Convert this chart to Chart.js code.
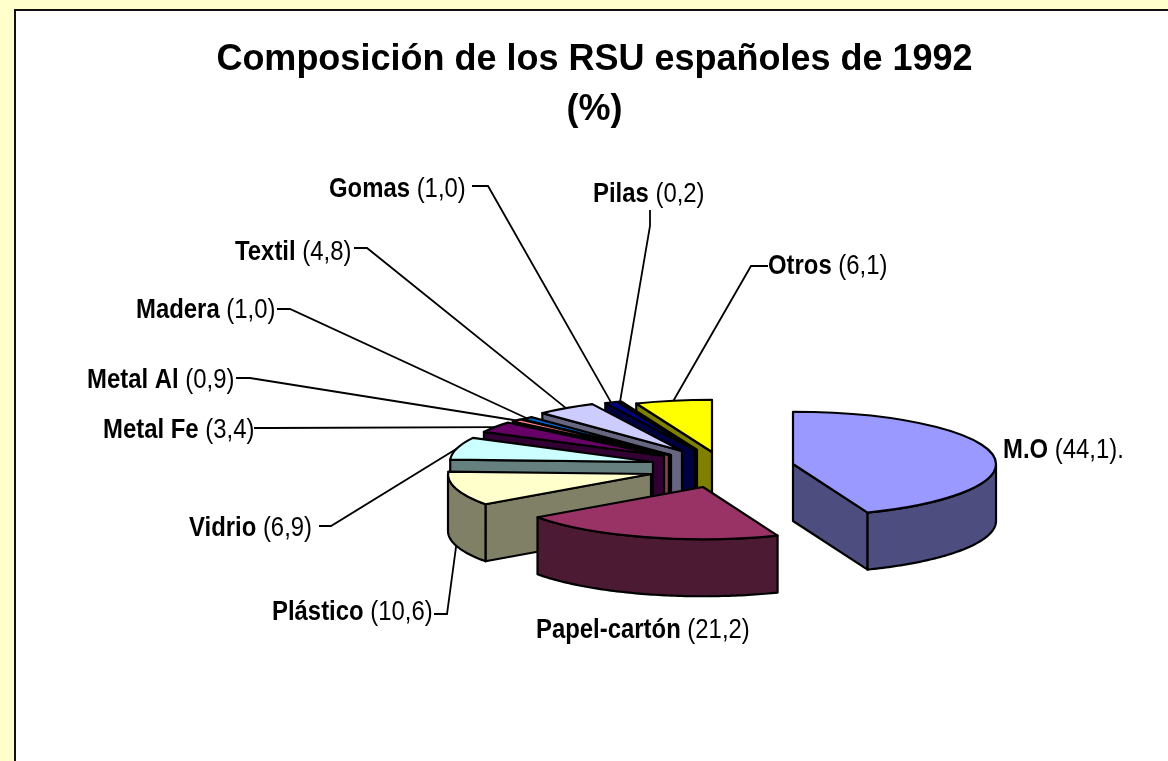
<!DOCTYPE html>
<html><head><meta charset="utf-8">
<style>html,body{margin:0;padding:0;background:#FFFFCC;overflow:hidden}
#wrap{position:absolute;left:0;top:0;width:1168px;height:761px}
#frame{position:absolute;left:14px;top:9px;width:1200px;height:800px;background:#fff;border:2px solid #111;border-right:0;border-bottom:0}
canvas{position:absolute;left:0;top:0}</style>
<script src="https://cdn.jsdelivr.net/npm/chart.js@4"></script>
</head><body><div id="wrap"><div id="frame"></div><canvas id="c" width="1168" height="761"></canvas></div>
<script>
const categories = ["M.O","Papel-cartón","Plástico","Vidrio","Metal Fe","Metal Al","Madera","Textil","Gomas","Pilas","Otros"];
const values = [44.1,21.2,10.6,6.9,3.4,0.9,1.0,4.8,1.0,0.2,6.1];
const valueTexts = ["(44,1).","(21,2)","(10,6)","(6,9)","(3,4)","(0,9)","(1,0)","(4,8)","(1,0)","(0,2)","(6,1)"];
const titleLines = ["Composición de los RSU españoles de 1992","(%)"];
const topColors = ["#9999FF","#993366","#FFFFCC","#CCFFFF","#660066","#FF8080","#0066CC","#CCCCFF","#000080","#FF00FF","#FFFF00"];
const wallColors = ["#4D4D80","#4D1A33","#808066","#668080","#330033","#804040","#003366","#666680","#000040","#800080","#808000"];
// explosion of each slice away from the pie centre, in pixels (style)
const explodeX = [76,-14,-66,-64,-53,-48,-46,-35,-22,-20,-5];
const explodeY = [-4,19,6,-6,-12,-13,-13,-17,-18,-18,-16];
// label placement (style): text left, baseline, leader start, elbow
const labelX = [1003,536,272,189,103,87,136,235,329,593,768];
const labelY = [458,638,620,536,438,388,318,260,197,202,274];
const leaderFrom = [null,null,[434,614],[319,526],[254,428],[236,378],[277,309],[354,248],[472,186],[650,210],[768,266]];
const leaderElbow = [null,null,[447,614],[331,526],[270,428],[250,378],[290,309],[367,248],[488,186],[650,226],[751,266]];

const RADIUS=203, TILT=0.2574, DEPTH=57, CX=717, CY=468, LW=2.2;
const LABEL_PX=27, LABEL_SX=0.885;
const FONT='"Liberation Sans", Arial, sans-serif';

function slicePts(arc,i){
  const ox=CX+explodeX[i], oy=CY+explodeY[i], r=arc.outerRadius;
  return {ox,oy,r,P:a=>[ox+r*Math.cos(a),oy+r*TILT*Math.sin(a)]};
}
class Pie3D extends Chart.PieController{
  draw(){
    const ctx=this.chart.ctx, arcs=this.getMeta().data;
    const mid=a=>(a.startAngle+a.endAngle)/2;
    const order=arcs.map((a,i)=>i).sort((p,q)=>Math.sin(mid(arcs[p]))-Math.sin(mid(arcs[q])));
    ctx.save(); ctx.lineJoin='round'; ctx.lineWidth=LW; ctx.strokeStyle='#000';
    for(const i of order){
      const arc=arcs[i], {ox,oy,r,P}=slicePts(arc,i), s=arc.startAngle, e=arc.endAngle;
      const face=pts=>{ctx.beginPath();pts.forEach((p,n)=>n?ctx.lineTo(p[0],p[1]):ctx.moveTo(p[0],p[1]));ctx.closePath();ctx.fillStyle=wallColors[i];ctx.fill();ctx.stroke();};
      // the two straight cut faces: visible when they turn towards the viewer
      if(Math.cos(s)<0) { const p=P(s); face([[ox,oy],p,[p[0],p[1]+DEPTH],[ox,oy+DEPTH]]); }
      if(Math.cos(e)>0) { const p=P(e); face([[ox,oy],p,[p[0],p[1]+DEPTH],[ox,oy+DEPTH]]); }
      // outer rim: only the part in the lower half of the ellipse
      const a0=Math.max(s,0), a1=Math.min(e,Math.PI);
      if(a1>a0){
        const rim=[]; const n=Math.ceil((a1-a0)*60);
        for(let k=0;k<=n;k++) rim.push(P(a0+(a1-a0)*k/n));
        const low=rim.slice().reverse().map(p=>[p[0],p[1]+DEPTH]);
        face(rim.concat(low));
      }
      // top face: the library's own arc, flattened
      ctx.save();
      ctx.translate(ox,oy); ctx.scale(1,TILT); ctx.translate(-arc.x,-arc.y);
      arc.draw(ctx);
      ctx.restore();
      ctx.save();
      ctx.translate(ox,oy); ctx.scale(1,TILT);
      ctx.beginPath(); ctx.moveTo(0,0); ctx.arc(0,0,r,s,e); ctx.closePath();
      ctx.restore();
      ctx.stroke();
    }
    ctx.restore();
  }
}
Pie3D.id='pie3d';
Pie3D.defaults=Chart.PieController.defaults;
Pie3D.overrides=Chart.PieController.overrides;
Chart.register(Pie3D);

const labelsPlugin={id:'sliceLabels',afterDatasetsDraw(chart){
  const ctx=chart.ctx, arcs=chart.getDatasetMeta(0).data;
  ctx.save(); ctx.strokeStyle='#000'; ctx.lineWidth=1.8; ctx.fillStyle='#000'; ctx.textBaseline='alphabetic';
  arcs.forEach((arc,i)=>{
    if(leaderFrom[i]){
      const {P}=slicePts(arc,i), m=(arc.startAngle+arc.endAngle)/2, p=P(m);
      const y=p[1]+(Math.sin(m)>0?DEPTH:0);
      ctx.beginPath(); ctx.moveTo(leaderFrom[i][0],leaderFrom[i][1]);
      ctx.lineTo(leaderElbow[i][0],leaderElbow[i][1]); ctx.lineTo(p[0],y); ctx.stroke();
    }
    ctx.save(); ctx.translate(labelX[i],labelY[i]); ctx.scale(LABEL_SX,1);
    ctx.font='bold '+LABEL_PX+'px '+FONT;
    ctx.fillText(categories[i],0,0);
    const w=ctx.measureText(categories[i]+' ').width;
    ctx.font=LABEL_PX+'px '+FONT;
    ctx.fillText(valueTexts[i],w,0);
    ctx.restore();
  });
  ctx.restore();
}};

new Chart(document.getElementById('c'),{
  type:'pie3d',
  data:{labels:categories,datasets:[{data:values,backgroundColor:topColors,borderWidth:0,radius:RADIUS}]},
  plugins:[labelsPlugin],
  options:{responsive:false,animation:false,
    layout:{padding:{left:21,top:35}},
    plugins:{legend:{display:false},tooltip:{enabled:false},
      title:{display:true,text:titleLines,color:'#000',
        font:{family:FONT,size:36,weight:'bold',lineHeight:1.389},padding:0}}}
});
</script></body></html>
